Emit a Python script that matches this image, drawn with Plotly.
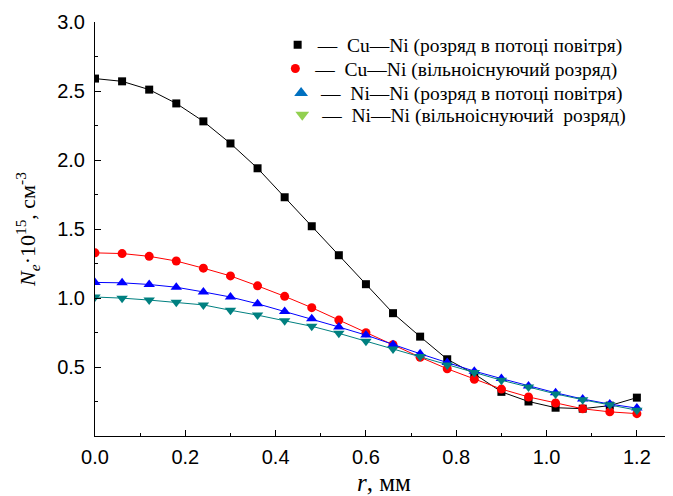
import plotly.graph_objects as go

r = [0.00, 0.06, 0.12, 0.18, 0.24, 0.30, 0.36, 0.42, 0.48, 0.54, 0.60,
     0.66, 0.72, 0.78, 0.84, 0.90, 0.96, 1.02, 1.08, 1.14, 1.20]

cuni_air = [2.59, 2.57, 2.51, 2.41, 2.28, 2.12, 1.94, 1.73, 1.52, 1.31, 1.10,
            0.89, 0.72, 0.556, 0.45, 0.32, 0.25, 0.205, 0.198, 0.22, 0.278]
cuni_free = [1.327, 1.322, 1.302, 1.268, 1.216, 1.16, 1.088, 1.012, 0.93, 0.84, 0.748,
             0.662, 0.571, 0.487, 0.411, 0.34, 0.283, 0.239, 0.197, 0.175, 0.162]
nini_air = [1.113, 1.11, 1.098, 1.078, 1.044, 1.007, 0.958, 0.903, 0.849, 0.79, 0.731,
            0.662, 0.596, 0.532, 0.47, 0.416, 0.362, 0.313, 0.268, 0.231, 0.202]
nini_free = [1.007, 0.999, 0.985, 0.970, 0.950, 0.911, 0.876, 0.835, 0.795, 0.744, 0.687,
             0.63, 0.576, 0.515, 0.46, 0.404, 0.355, 0.305, 0.263, 0.227, 0.187]

legend_labels = ["—\u00a0\u00a0Cu—Ni (розряд в потоці повітря)",
                 "—\u00a0\u00a0Cu—Ni (вільноіснуючий розряд)",
                 "—\u00a0\u00a0Ni—Ni (розряд в потоці повітря)",
                 "—\u00a0\u00a0Ni—Ni (вільноіснуючий  розряд)"]

x_ticks = [0.0, 0.2, 0.4, 0.6, 0.8, 1.0, 1.2]
y_ticks = [0.5, 1.0, 1.5, 2.0, 2.5, 3.0]

series = [
    (cuni_air, "#000000", "square", 8),
    (cuni_free, "#ff0000", "circle", 9),
    (nini_air, "#0000ff", "triangle-up", 10),
    (nini_free, "#008080", "triangle-down", 10),
]
legend_styles = [
    ("#000000", "square", 8),
    ("#ff0000", "circle", 9),
    ("#0070c0", "triangle-up", 12),
    ("#92d050", "triangle-down", 12),
]
legend_ids = ["legend", "legend2", "legend3", "legend4"]
legend_pos = [(0.316, 0.944), (0.312, 0.887), (0.322, 0.828), (0.324, 0.775)]

fig = go.Figure()
for vals, col, sym, sz in series:
    fig.add_trace(go.Scatter(x=r, y=vals, mode="lines+markers",
                             line=dict(color=col, width=1),
                             marker=dict(color=col, symbol=sym, size=sz),
                             showlegend=False))
for lab, (col, sym, sz), lid in zip(legend_labels, legend_styles, legend_ids):
    fig.add_trace(go.Scatter(x=[None], y=[None], mode="markers", name=lab, legend=lid,
                             marker=dict(color=col, symbol=sym, size=sz)))

legend_common = dict(xanchor="left", yanchor="middle",
                     font=dict(family="Liberation Serif", size=19.5, color="black"),
                     bgcolor="rgba(0,0,0,0)", itemwidth=30)
legends = {}
for lid, (lx, ly) in zip(legend_ids, legend_pos):
    legends[lid] = dict(x=lx, y=ly, **legend_common)

fig.update_layout(
    width=665, height=488,
    margin=dict(l=87, r=0, t=14, b=60),
    plot_bgcolor="white", paper_bgcolor="white",
    showlegend=True,
    xaxis=dict(range=[0, 1.28], tickvals=x_ticks, ticktext=[f"{v:.1f}" for v in x_ticks],
               automargin=False, ticklabelstandoff=3,
               ticks="inside", ticklen=6, tickcolor="black",
               minor=dict(dtick=0.1, tick0=0, ticks="inside", ticklen=3, tickcolor="black"),
               showline=True, linecolor="black", linewidth=1, showgrid=False, zeroline=False,
               tickfont=dict(family="Liberation Sans", size=20, color="black"),
               title=dict(text="<i>r</i>, мм", font=dict(family="Liberation Serif", size=25, color="black"),
                          standoff=12)),
    yaxis=dict(range=[0, 3.0], tickvals=y_ticks, ticktext=[f"{v:.1f}" for v in y_ticks],
               automargin=False, ticklabelstandoff=5,
               ticks="inside", ticklen=6, tickcolor="black",
               minor=dict(dtick=0.25, tick0=0, ticks="inside", ticklen=3, tickcolor="black"),
               showline=True, linecolor="black", linewidth=1, showgrid=False, zeroline=False,
               tickfont=dict(family="Liberation Sans", size=20, color="black"),
               title=dict(text="<i>N<sub>e</sub></i>·10<sup>15</sup>, см<sup>-3</sup>",
                          font=dict(family="Liberation Serif", size=22, color="black"),
                          standoff=15)),
    **legends,
)

fig.write_html("out.html")
